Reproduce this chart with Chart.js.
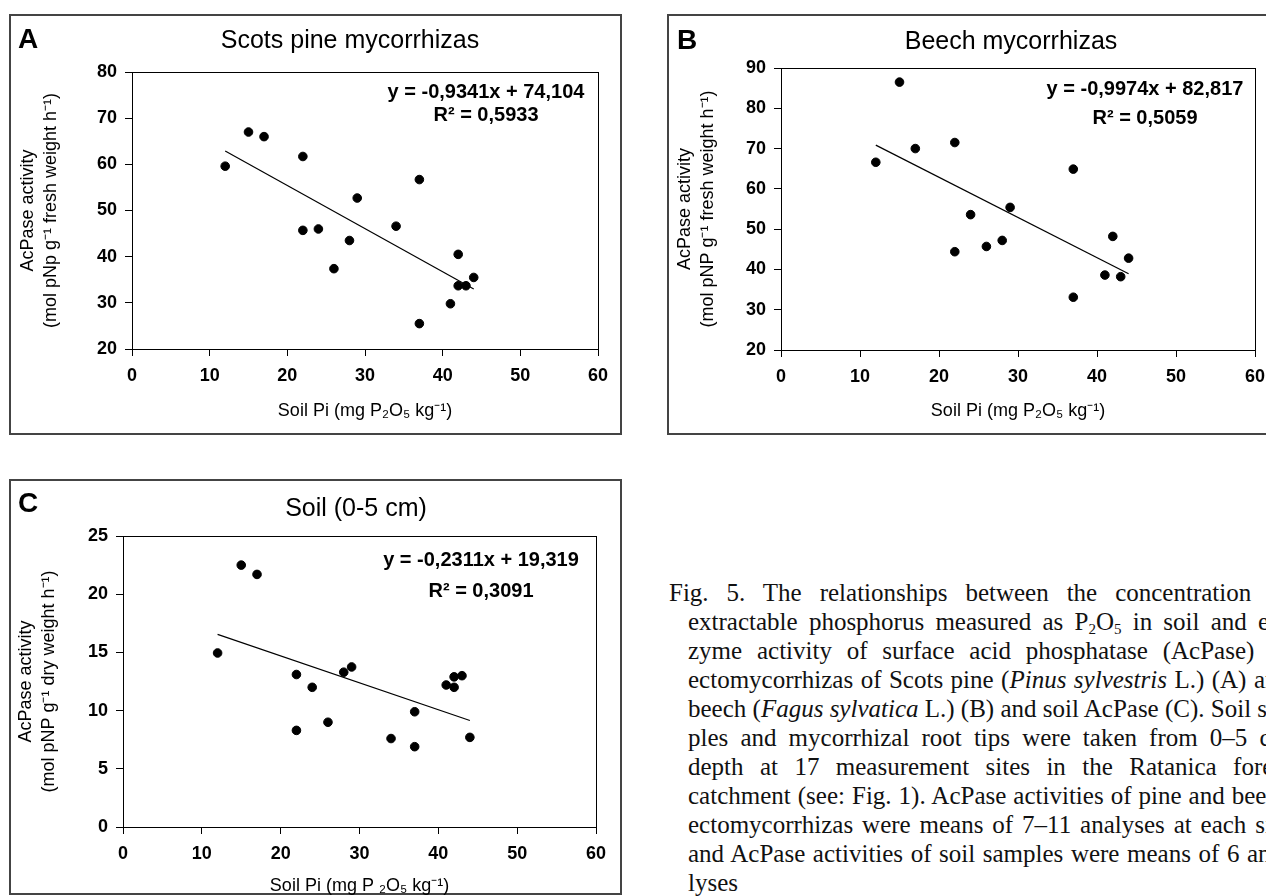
<!DOCTYPE html>
<html>
<head>
<meta charset="utf-8">
<script src="https://cdn.jsdelivr.net/npm/chart.js@4.4.1/dist/chart.umd.min.js"></script>
<style>
html, body { margin: 0; padding: 0; background: #fff; width: 1266px; height: 896px; overflow: hidden; }
.panel { position: absolute; border: 2px solid #444; box-sizing: border-box; }
canvas { position: absolute; }
.letter { position: absolute; font: bold 28px "Liberation Sans", Arial, sans-serif; line-height: 1; transform: translateY(-50%); }
.title { position: absolute; font: 25px "Liberation Sans", Arial, sans-serif; line-height: 1; white-space: nowrap; transform: translate(-50%, -50%); }
.caption { position: absolute; left: 669px; top: 578px; font-family: "Liberation Serif", "Times New Roman", serif; font-size: 25px; line-height: 29px; color: #111; }
.caption div { white-space: nowrap; text-align: justify; text-align-last: justify; width: 621px; }
.caption div.ind { margin-left: 19px; width: 602px; }
.caption div.last { text-align-last: left; }
.caption sub { font-size: 0.6em; line-height: 0; vertical-align: -0.25em; }
</style>
</head>
<body>

<div class="caption">
  <div>Fig. 5. The relationships between the concentration of</div>
  <div class="ind">extractable phosphorus measured as P<sub>2</sub>O<sub>5</sub> in soil and en-</div>
  <div class="ind">zyme activity of surface acid phosphatase (AcPase) of</div>
  <div class="ind">ectomycorrhizas of Scots pine (<i>Pinus sylvestris</i> L.) (A) and</div>
  <div class="ind">beech (<i>Fagus sylvatica</i> L.) (B) and soil AcPase (C). Soil sam-</div>
  <div class="ind">ples and mycorrhizal root tips were taken from 0–5 cm</div>
  <div class="ind">depth at 17 measurement sites in the Ratanica forest</div>
  <div class="ind">catchment (see: Fig. 1). AcPase activities of pine and beech</div>
  <div class="ind">ectomycorrhizas were means of 7–11 analyses at each site</div>
  <div class="ind">and AcPase activities of soil samples were means of 6 ana-</div>
  <div class="ind last">lyses</div>
</div>

<script>
// soil Pi (mg P2O5 / kg) at each site and AcPase activity
var pineSoilPi = [12, 15, 17, 22, 22, 24, 26, 28, 29, 34, 37, 37, 41, 42, 42, 43, 44];
var pineAcPase = [59.6, 67.0, 66.0, 61.7, 45.7, 46.0, 37.4, 43.5, 52.7, 46.6, 56.7, 25.5, 29.8, 40.5, 33.7, 33.7, 35.5];

var beechSoilPi = [12, 15, 17, 22, 22, 24, 26, 28, 29, 37, 37, 41, 42, 43, 44];
var beechAcPase = [66.6, 86.5, 70.0, 71.5, 44.4, 53.6, 45.7, 47.2, 55.4, 64.9, 33.1, 38.6, 48.2, 38.2, 42.8];

var soilSoilPi = [12, 15, 17, 22, 22, 24, 26, 28, 29, 34, 37, 37, 41, 42, 42, 43, 44];
var soilAcPase = [14.95, 22.5, 21.7, 13.1, 8.3, 12.0, 9.0, 13.3, 13.75, 7.6, 9.9, 6.9, 12.2, 12.0, 12.9, 13.0, 7.7];

// linear trends as printed on the plots
var trendSlope = [-0.9341, -0.9974, -0.2311];
var trendIntercept = [74.104, 82.817, 19.319];
var trendText = [
    ['y = -0,9341x + 74,104', 'R² = 0,5933'],
    ['y = -0,9974x + 82,817', 'R² = 0,5059'],
    ['y = -0,2311x + 19,319', 'R² = 0,3091']
];

var panelLetters = ['A', 'B', 'C'];
var panelTitles = ['Scots pine mycorrhizas', 'Beech mycorrhizas', 'Soil (0-5 cm)'];
var yTitles = [
    ['AcPase activity', '(mol pNp g⁻¹ fresh weight h⁻¹)'],
    ['AcPase activity', '(mol pNP g⁻¹ fresh weight h⁻¹)'],
    ['AcPase activity', '(mol pNP g⁻¹ dry weight h⁻¹)']
];
var xTitles = ['Soil Pi (mg P₂O₅ kg⁻¹)', 'Soil Pi (mg P₂O₅ kg⁻¹)', 'Soil Pi (mg P ₂O₅ kg⁻¹)'];
var xRange = [0, 60, 10];
var yRanges = [[20, 80, 10], [20, 90, 10], [0, 25, 5]];

// page layout (absolute pixels): box = [left, top, w, h], plot = [x0, y0, x1, y1]
var layout = [
    { box: [9, 14, 613, 421], plot: [132, 72, 598, 349], title: [350, 39], letter: [18, 39], padL: 7, xPadB: 15, eqDx: 112, eqDy: [20, 43] },
    { box: [667, 14, 613, 421], plot: [781, 68, 1255, 350], title: [1011, 40], letter: [677, 40], padL: 6, xPadB: 15, eqDx: 110, eqDy: [21, 50] },
    { box: [9, 479, 613, 416], plot: [123, 536, 596, 827], title: [356, 507], letter: [18, 503], padL: 5, xPadB: 0, eqDx: 115, eqDy: [24, 55] }
];

var FONT = '"Liberation Sans", Arial, sans-serif';

var framePlugin = {
    id: 'frameAndEq',
    afterDraw: function (chart, args, opts) {
        var a = chart.chartArea, ctx = chart.ctx;
        ctx.save();
        ctx.strokeStyle = '#000';
        ctx.lineWidth = 1;
        ctx.strokeRect(Math.round(a.left) + 0.5, Math.round(a.top) + 0.5,
            Math.round(a.right - a.left), Math.round(a.bottom - a.top));
        ctx.fillStyle = '#000';
        ctx.font = 'bold 20px ' + FONT;
        ctx.textAlign = 'center';
        ctx.textBaseline = 'middle';
        opts.lines.forEach(function (t, i) {
            ctx.fillText(t, a.right - opts.dx, a.top + opts.dy[i]);
        });
        ctx.restore();
    }
};

function makePanel(i, xs, ys) {
    var L = layout[i];
    var bx = L.box[0], by = L.box[1], bw = L.box[2], bh = L.box[3];

    var box = document.createElement('div');
    box.className = 'panel';
    box.style.cssText = 'left:' + bx + 'px;top:' + by + 'px;width:' + bw + 'px;height:' + bh + 'px';
    document.body.appendChild(box);

    var cv = document.createElement('canvas');
    cv.width = bw; cv.height = bh;
    cv.style.left = bx + 'px'; cv.style.top = by + 'px';
    document.body.appendChild(cv);

    var letter = document.createElement('div');
    letter.className = 'letter';
    letter.textContent = panelLetters[i];
    letter.style.left = L.letter[0] + 'px'; letter.style.top = L.letter[1] + 'px';
    document.body.appendChild(letter);

    var title = document.createElement('div');
    title.className = 'title';
    title.textContent = panelTitles[i];
    title.style.left = L.title[0] + 'px'; title.style.top = L.title[1] + 'px';
    document.body.appendChild(title);

    var pts = xs.map(function (x, k) { return { x: x, y: ys[k] }; });
    var xMin = Math.min.apply(null, xs), xMax = Math.max.apply(null, xs);
    var trend = [xMin, xMax].map(function (x) {
        return { x: x, y: trendSlope[i] * x + trendIntercept[i] };
    });

    var plotL = L.plot[0] - bx, plotT = L.plot[1] - by, plotR = bx + bw - L.plot[2], plotB = by + bh - L.plot[3];
    var yr = yRanges[i];

    new Chart(cv, {
        type: 'scatter',
        data: {
            datasets: [{
                data: pts,
                backgroundColor: '#000',
                borderColor: '#000',
                pointRadius: 4.3,
                pointHoverRadius: 4.3
            }, {
                type: 'line',
                data: trend,
                borderColor: '#000',
                borderWidth: 1.2,
                pointRadius: 0,
                fill: false
            }]
        },
        options: {
            responsive: false,
            animation: false,
            events: [],
            layout: { padding: { left: L.padL, top: plotT, right: plotR, bottom: 0 } },
            plugins: {
                legend: { display: false },
                tooltip: { enabled: false },
                frameAndEq: { lines: trendText[i], dx: L.eqDx, dy: L.eqDy }
            },
            scales: {
                x: {
                    type: 'linear',
                    min: xRange[0], max: xRange[1],
                    ticks: { stepSize: xRange[2], color: '#000', padding: 9, maxRotation: 0,
                        font: { family: FONT, size: 18, weight: 'bold' } },
                    grid: { drawOnChartArea: false, drawTicks: true, tickLength: 7, color: '#000' },
                    border: { display: true, color: '#000', width: 1 },
                    title: { display: true, text: xTitles[i], color: '#000',
                        font: { family: FONT, size: 18, lineHeight: 1 }, padding: { top: 0, bottom: L.xPadB } },
                    afterFit: function (s) { s.height = plotB; }
                },
                y: {
                    type: 'linear',
                    min: yr[0], max: yr[1],
                    ticks: { stepSize: yr[2], color: '#000', padding: 8,
                        font: { family: FONT, size: 18, weight: 'bold' } },
                    grid: { drawOnChartArea: false, drawTicks: true, tickLength: 7, color: '#000' },
                    border: { display: true, color: '#000', width: 1 },
                    title: { display: true, text: yTitles[i], color: '#000',
                        font: { family: FONT, size: 18, lineHeight: 1.3 }, padding: { top: 0, bottom: 0 } },
                    afterFit: function (s) { s.width = plotL - L.padL; }
                }
            }
        },
        plugins: [framePlugin]
    });
}

makePanel(0, pineSoilPi, pineAcPase);
makePanel(1, beechSoilPi, beechAcPase);
makePanel(2, soilSoilPi, soilAcPase);
</script>
</body>
</html>
